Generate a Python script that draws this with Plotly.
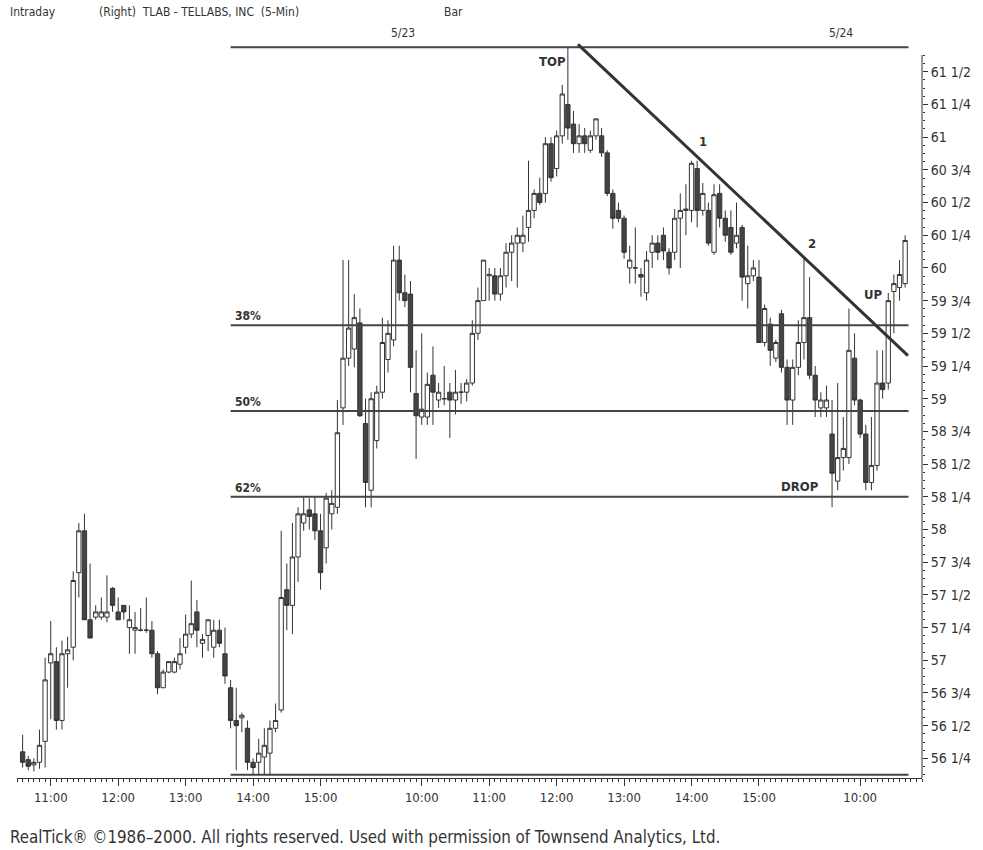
import plotly.graph_objects as go

# 5-minute bars, index 0 = 10:35 on day 1 (5/22), 65 = 9:30 on 5/23, 143 = 9:30 on 5/24
opens = [56.30, 56.24, 56.20, 56.22, 56.38, 56.98, 56.99, 56.54, 57.05, 57.10,
         57.67, 57.99, 57.31, 57.33, 57.33, 57.33, 57.55, 57.37, 57.42, 57.25,
         57.23, 57.23, 57.23, 57.23, 57.05, 56.79, 56.91, 56.91, 56.97, 57.10,
         57.20, 57.37, 57.13, 57.19, 57.10, 57.23, 57.05, 56.79, 56.54, 56.56,
         56.48, 56.22, 56.22, 56.26, 56.29, 56.48, 56.62, 57.54, 57.42, 57.79,
         58.05, 58.15, 58.12, 57.99, 57.86, 58.12, 58.17, 58.93, 59.31, 59.38,
         59.58, 58.81, 58.30, 58.68, 59.05, 59.30, 59.45, 60.06, 59.81, 59.80,
         59.04, 58.86, 58.86, 59.18, 58.99, 59.00, 59.05, 58.99, 59.05, 59.05,
         59.12, 59.50, 59.75, 59.94, 59.94, 59.80, 59.94, 60.12, 60.19, 60.19,
         60.31, 60.44, 60.57, 60.57, 60.95, 60.76, 61.01, 61.25, 61.10, 60.95,
         61.01, 60.90, 61.01, 61.01, 60.88, 60.57, 60.44, 60.38, 60.00, 60.00,
         59.95, 59.81, 60.12, 60.19, 60.25, 60.12, 60.12, 60.38, 60.44, 60.44,
         60.76, 60.44, 60.44, 60.12, 60.57, 60.38, 60.31, 60.19, 60.31, 59.88,
         59.94, 59.93, 59.43, 59.57, 59.31, 59.65, 59.24, 58.99, 59.24, 59.43,
         59.62, 59.18, 58.93, 58.93, 58.73, 58.37, 58.55, 58.55, 59.31, 58.99,
         58.73, 58.36, 58.49, 59.12, 59.12, 59.82, 59.85, 59.88]
highs = [56.43, 56.27, 56.25, 56.47, 57.02, 57.30, 57.10, 57.15, 57.18, 57.68,
         58.05, 58.12, 57.74, 57.42, 57.48, 57.65, 57.56, 57.48, 57.42, 57.42,
         57.37, 57.40, 57.48, 57.30, 57.07, 56.93, 56.99, 57.02, 57.17, 57.35,
         57.61, 57.46, 57.20, 57.31, 57.31, 57.31, 57.25, 56.85, 56.79, 56.60,
         56.54, 56.25, 56.40, 56.48, 56.54, 56.67, 57.99, 57.74, 58.05, 58.17,
         58.25, 58.24, 58.25, 58.12, 58.28, 58.30, 58.99, 60.06, 60.06, 59.80,
         59.69, 59.00, 59.05, 59.10, 59.62, 59.60, 60.17, 60.17, 59.95, 59.90,
         59.37, 59.50, 59.20, 59.40, 59.12, 59.25, 59.12, 59.22, 59.12, 59.15,
         59.60, 59.85, 60.06, 60.00, 60.00, 60.00, 60.19, 60.25, 60.31, 60.40,
         60.82, 60.60, 60.69, 61.00, 61.00, 61.05, 61.40, 61.69, 61.20, 61.10,
         61.07, 61.05, 61.14, 61.07, 60.90, 60.60, 60.50, 60.40, 60.17, 60.31,
         60.00, 60.13, 60.25, 60.25, 60.31, 60.15, 60.45, 60.57, 60.64, 60.82,
         60.82, 60.65, 60.50, 60.64, 60.64, 60.44, 60.44, 60.50, 60.33, 60.17,
         60.06, 60.06, 59.72, 59.62, 59.45, 59.68, 59.30, 59.30, 59.60, 60.07,
         59.93, 59.25, 59.05, 59.10, 58.99, 59.12, 58.86, 59.69, 59.50, 59.00,
         58.80, 58.86, 59.37, 59.37, 59.81, 59.95, 60.06, 60.25]
lows = [56.18, 56.16, 56.15, 56.17, 56.18, 56.55, 56.47, 56.47, 56.79, 57.00,
        57.48, 57.31, 57.17, 57.31, 57.31, 57.29, 57.37, 57.31, 57.31, 57.05,
        57.05, 57.22, 57.21, 57.02, 56.74, 56.79, 56.90, 56.90, 56.93, 57.05,
        57.17, 57.10, 57.02, 57.07, 57.02, 57.10, 56.82, 56.48, 56.16, 56.45,
        56.16, 56.125, 56.13, 56.13, 56.13, 56.45, 56.60, 57.23, 57.20, 57.60,
        57.99, 58.00, 57.92, 57.54, 57.74, 58.00, 58.12, 58.80, 59.25, 59.24,
        58.86, 58.17, 58.17, 58.62, 59.00, 59.20, 59.40, 59.75, 59.70, 59.05,
        58.54, 58.80, 58.80, 58.80, 58.93, 58.95, 58.70, 58.88, 58.96, 58.98,
        59.10, 59.45, 59.75, 59.75, 59.75, 59.75, 59.85, 59.90, 59.85, 60.12,
        60.20, 60.38, 60.48, 60.50, 60.66, 60.70, 60.95, 60.98, 60.88, 60.88,
        60.88, 60.88, 60.98, 60.85, 60.55, 60.30, 60.35, 60.07, 59.88, 59.88,
        59.78, 59.75, 60.00, 60.06, 60.06, 59.95, 60.06, 60.00, 60.25, 60.35,
        60.31, 60.40, 60.17, 60.10, 60.31, 60.20, 60.10, 60.15, 59.75, 59.69,
        59.90, 59.43, 59.40, 59.25, 59.28, 59.20, 58.80, 58.80, 59.18, 59.30,
        59.15, 58.86, 58.86, 58.86, 58.17, 58.30, 58.45, 58.50, 58.95, 58.70,
        58.30, 58.30, 58.45, 59.00, 59.07, 59.50, 59.75, 59.85]
closes = [56.22, 56.19, 56.22, 56.35, 56.85, 57.05, 56.54, 57.05, 57.08, 57.61,
          57.99, 57.31, 57.17, 57.37, 57.37, 57.37, 57.42, 57.31, 57.37, 57.31,
          57.25, 57.23, 57.23, 57.05, 56.79, 56.91, 56.99, 56.99, 57.05, 57.20,
          57.28, 57.23, 57.16, 57.31, 57.23, 57.13, 56.88, 56.54, 56.50, 56.58,
          56.22, 56.18, 56.29, 56.35, 56.48, 56.54, 57.48, 57.42, 57.79, 58.12,
          58.12, 58.10, 57.99, 57.67, 58.24, 58.20, 58.74, 59.31, 59.54, 59.62,
          58.87, 58.36, 59.00, 59.05, 59.43, 59.50, 60.06, 59.81, 59.75, 59.24,
          58.87, 58.92, 59.11, 59.05, 59.05, 59.00, 58.99, 59.05, 59.05, 59.12,
          59.50, 59.75, 60.06, 59.95, 59.80, 59.94, 60.12, 60.19, 60.25, 60.25,
          60.44, 60.57, 60.50, 60.95, 60.69, 61.01, 61.33, 61.07, 60.95, 61.01,
          60.95, 61.01, 61.14, 60.88, 60.57, 60.38, 60.38, 60.12, 60.06, 60.00,
          59.93, 60.06, 60.19, 60.12, 60.13, 60.00, 60.38, 60.44, 60.45, 60.80,
          60.44, 60.57, 60.19, 60.56, 60.38, 60.25, 60.12, 60.25, 59.93, 59.94,
          60.00, 59.43, 59.69, 59.37, 59.43, 59.24, 58.99, 59.24, 59.43, 59.62,
          59.18, 58.99, 58.99, 58.99, 58.43, 58.55, 58.62, 59.37, 58.99, 58.73,
          58.36, 58.49, 59.12, 59.07, 59.75, 59.88, 59.95, 60.21]

hour_pos = [5, 17, 29, 41, 53, 71, 83, 95, 107, 119, 131, 149]
hour_labels = ["11:00", "12:00", "13:00", "14:00", "15:00", "10:00", "11:00",
               "12:00", "13:00", "14:00", "15:00", "10:00"]

price_ticks = [56.25 + 0.25 * i for i in range(22)]
frac = {0: "", 0.25: " 1/4", 0.5: " 1/2", 0.75: " 3/4"}
price_labels = [f"{int(p)}{frac[p - int(p)]}" for p in price_ticks]
minor_prices = [56 + k / 16 for k in range(2, 91)]

swing_low = 56.125
swing_high = 61.6875
fib_levels = [0.382, 0.5, 0.618]
fib_names = ["38%", "50%", "62%"]
trend_pts = [(98.8, 61.71), (157.5, 59.33)]

FONT = "DejaVu Sans Condensed, Liberation Sans Narrow, Liberation Sans, Arial"
INK = "#333333"

fig = go.Figure()
fig.add_trace(go.Candlestick(
    x=list(range(len(opens))), open=opens, high=highs, low=lows, close=closes,
    increasing=dict(fillcolor="white", line=dict(color=INK, width=1)),
    decreasing=dict(fillcolor="#444444", line=dict(color=INK, width=1)),
    whiskerwidth=0, showlegend=False, hoverinfo="skip",
))

# fib lines (swing low -> swing high)
x0, x1 = 37, 157.6
rng = swing_high - swing_low
levels = [swing_high, swing_low] + [swing_high - f * rng for f in fib_levels]
for lv in levels:
    fig.add_shape(type="line", x0=x0, x1=x1, y0=lv, y1=lv,
                  line=dict(color="#444444", width=2))
for name, f in zip(fib_names, fib_levels):
    fig.add_annotation(x=x0 + 0.4, y=swing_high - f * rng, text=f"<b>{name}</b>",
                       showarrow=False, xanchor="left", yanchor="bottom",
                       font=dict(family=FONT, size=12, color=INK))

# downtrend line
fig.add_shape(type="line", x0=trend_pts[0][0], y0=trend_pts[0][1],
              x1=trend_pts[1][0], y1=trend_pts[1][1],
              line=dict(color=INK, width=3))

notes = [("TOP", 94.2, 61.58), ("1", 121.0, 60.97), ("2", 140.5, 60.19),
         ("UP", 151.2, 59.80), ("DROP", 138.3, 58.33)]
for txt, nx, ny in notes:
    fig.add_annotation(x=nx, y=ny, text=f"<b>{txt}</b>", showarrow=False,
                       font=dict(family=FONT, size=13, color=INK))

# header / footer text
W, H, L, R, T, B = 983, 850, 17, 53, 26, 72
pw, ph = W - L - R, H - T - B


def px(x, y, text, size=12, anchor="left"):
    fig.add_annotation(xref="paper", yref="paper",
                       x=(x - L) / pw, y=(H - B - y) / ph, text=text,
                       showarrow=False, xanchor=anchor, yanchor="middle",
                       font=dict(family=FONT, size=size, color=INK))


px(8, 12, "Intraday")
px(98, 12, "(Right)  TLAB - TELLABS, INC  (5-Min)")
px(446, 12, "Bar")
px(406, 33, "5/23", anchor="center")
px(848, 33, "5/24", anchor="center")
px(8, 837, "RealTick® ©1986–2000. All rights reserved. Used with permission of Townsend Analytics, Ltd.", size=16.8)

# right price axis line starts a little below the top of the plot
fig.add_shape(type="line", xref="paper", yref="paper", x0=1, x1=1,
              y0=0, y1=(H - B - 55) / ph, line=dict(color=INK, width=1))

fig.update_layout(
    width=W, height=H,
    margin=dict(l=L, r=R, t=T, b=B),
    paper_bgcolor="white", plot_bgcolor="white",
    boxgap=0.15, boxgroupgap=0.1,
    font=dict(family=FONT, size=12, color=INK),
    xaxis=dict(range=[-1, 160], rangeslider=dict(visible=False),
               tickmode="array", tickvals=hour_pos, ticktext=hour_labels,
               ticks="outside", ticklen=7, tickcolor=INK, showgrid=False,
               zeroline=False, showline=True, linecolor=INK,
               tickfont=dict(family=FONT, size=13, color=INK),
               minor=dict(dtick=1, tick0=0, ticks="outside", ticklen=3,
                          tickcolor=INK, showgrid=False)),
    yaxis=dict(range=[56.1, 61.85], side="right", tickmode="array",
               tickvals=price_ticks, ticktext=price_labels,
               ticks="outside", ticklen=5, tickcolor=INK, showgrid=False,
               zeroline=False, showline=False,
               tickfont=dict(family=FONT, size=14, color=INK),
               minor=dict(tickmode="array", tickvals=minor_prices,
                          ticks="outside", ticklen=2, tickcolor=INK,
                          showgrid=False)),
)

# page body has a default 8px margin; drop it so the figure sits at the corner
fig.write_html("out.html", config={"displayModeBar": False},
               post_script="document.body.style.margin='0';")
